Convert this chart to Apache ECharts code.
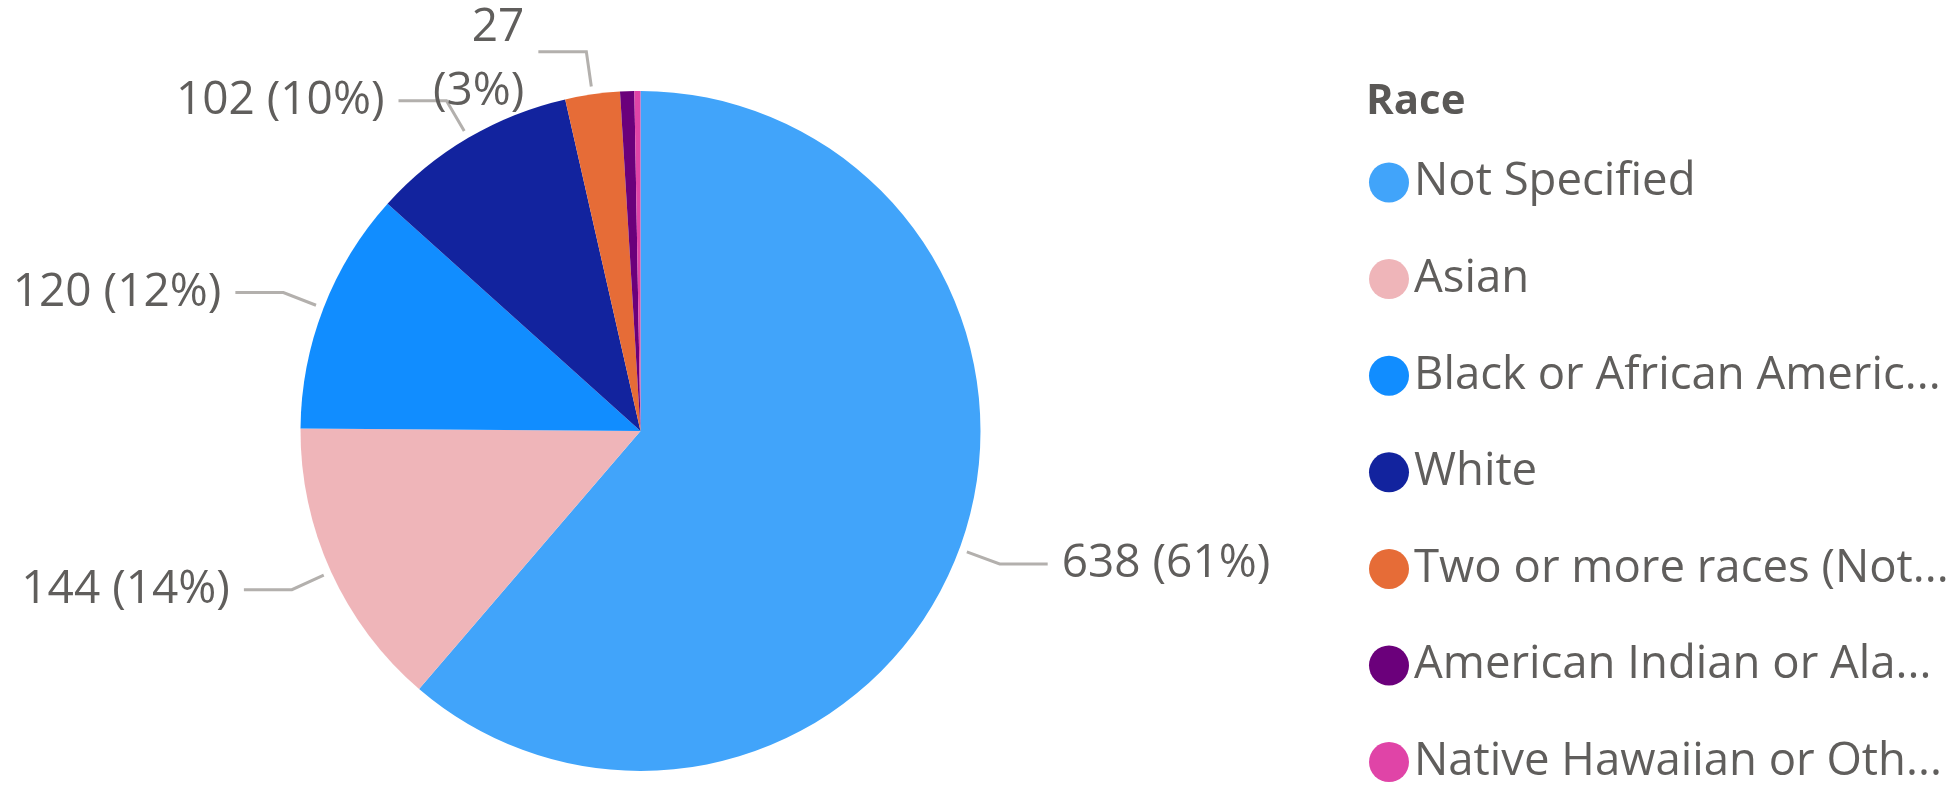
<!DOCTYPE html>
<html>
<head>
<meta charset="utf-8">
<script src="https://cdn.jsdelivr.net/npm/echarts@6/dist/echarts.min.js"></script>
<style>
  html, body { margin: 0; padding: 0; background: #ffffff; }
  #chart { width: 1946px; height: 789px; }
</style>
</head>
<body>
<div id="chart"></div>
<script>
// Race breakdown (head count per category)
const categories = [
  'Not Specified',
  'Asian',
  'Black or African American',
  'White',
  'Two or more races (Not Hispanic or Latino)',
  'American Indian or Alaska Native',
  'Native Hawaiian or Other Pacific Islander'
];
const legendLabels = [
  'Not Specified',
  'Asian',
  'Black or African Americ...',
  'White',
  'Two or more races (Not...',
  'American Indian or Ala...',
  'Native Hawaiian or Oth...'
];
const counts = [638, 144, 120, 102, 27, 7, 3];
const sliceColors = ['#41A4FA', '#EFB5B9', '#118DFF', '#12239E', '#E66C37', '#6B007B', '#E044A7'];
const legendTitle = 'Race';

const FONT = '"Open Sans", "Noto Sans", sans-serif';
const TEXT_COLOR = '#605E5C';
const total = counts.reduce((a, b) => a + b, 0);
const pct = v => Math.round(v / total * 100);
const isWrapped = v => pct(v) < 5;

const labelFor = {};
categories.forEach((c, i) => { labelFor[c] = legendLabels[i]; });

const pieData = categories.map((name, i) => {
  const visible = counts[i] / total >= 0.01;
  return {
    name: name,
    value: counts[i],
    itemStyle: { color: sliceColors[i] },
    label: { show: visible },
    labelLine: { show: visible }
  };
});

const chart = echarts.init(document.getElementById('chart'), null, { renderer: 'canvas' });

chart.setOption({
  animation: false,
  backgroundColor: '#ffffff',
  title: {
    text: legendTitle,
    left: 1366,
    top: 80,
    padding: 0,
    textStyle: {
      fontFamily: FONT,
      fontSize: 42,
      fontWeight: 'bold',
      color: '#5A5856',
      lineHeight: 44
    }
  },
  legend: {
    orient: 'vertical',
    left: 1369,
    top: 159.5,
    height: 629,
    padding: 0,
    itemWidth: 40,
    itemHeight: 40,
    itemGap: 50.6,
    icon: 'circle',
    selectedMode: false,
    data: categories,
    formatter: name => labelFor[name],
    textStyle: {
      fontFamily: FONT,
      fontSize: 45.5,
      color: TEXT_COLOR
    }
  },
  series: [{
    type: 'pie',
    center: [640.5, 431],
    radius: 340,
    startAngle: 90,
    clockwise: true,
    avoidLabelOverlap: false,
    silent: true,
    data: pieData,
    label: {
      position: 'outside',
      fontFamily: FONT,
      fontSize: 46,
      color: TEXT_COLOR,
      lineHeight: 64,
      distanceToLabelLine: 14,
      formatter: p => {
        const pc = pct(p.value);
        return isWrapped(p.value) ? p.value + '\n(' + pc + '%)' : p.value + ' (' + pc + '%)';
      }
    },
    labelLine: {
      length: 43,
      length2: 48,
      smooth: false,
      lineStyle: { color: '#B3B0AD', width: 3 }
    },
    // leader lines start a few pixels away from the slice edge;
    // two-line labels sit slightly below their leader line
    labelLayout: p => {
      const out = {};
      if (isWrapped(counts[p.dataIndex])) out.dy = 8;
      const pts = p.labelLinePoints;
      if (pts && pts.length >= 3) {
        const a = pts[0], b = pts[1];
        const dx = b[0] - a[0], dy = b[1] - a[1];
        const len = Math.hypot(dx, dy) || 1;
        const gap = 8;
        out.labelLinePoints = [[a[0] + dx / len * gap, a[1] + dy / len * gap], b, pts[2]];
      }
      return out;
    },
    emphasis: { disabled: true }
  }]
});
</script>
</body>
</html>
